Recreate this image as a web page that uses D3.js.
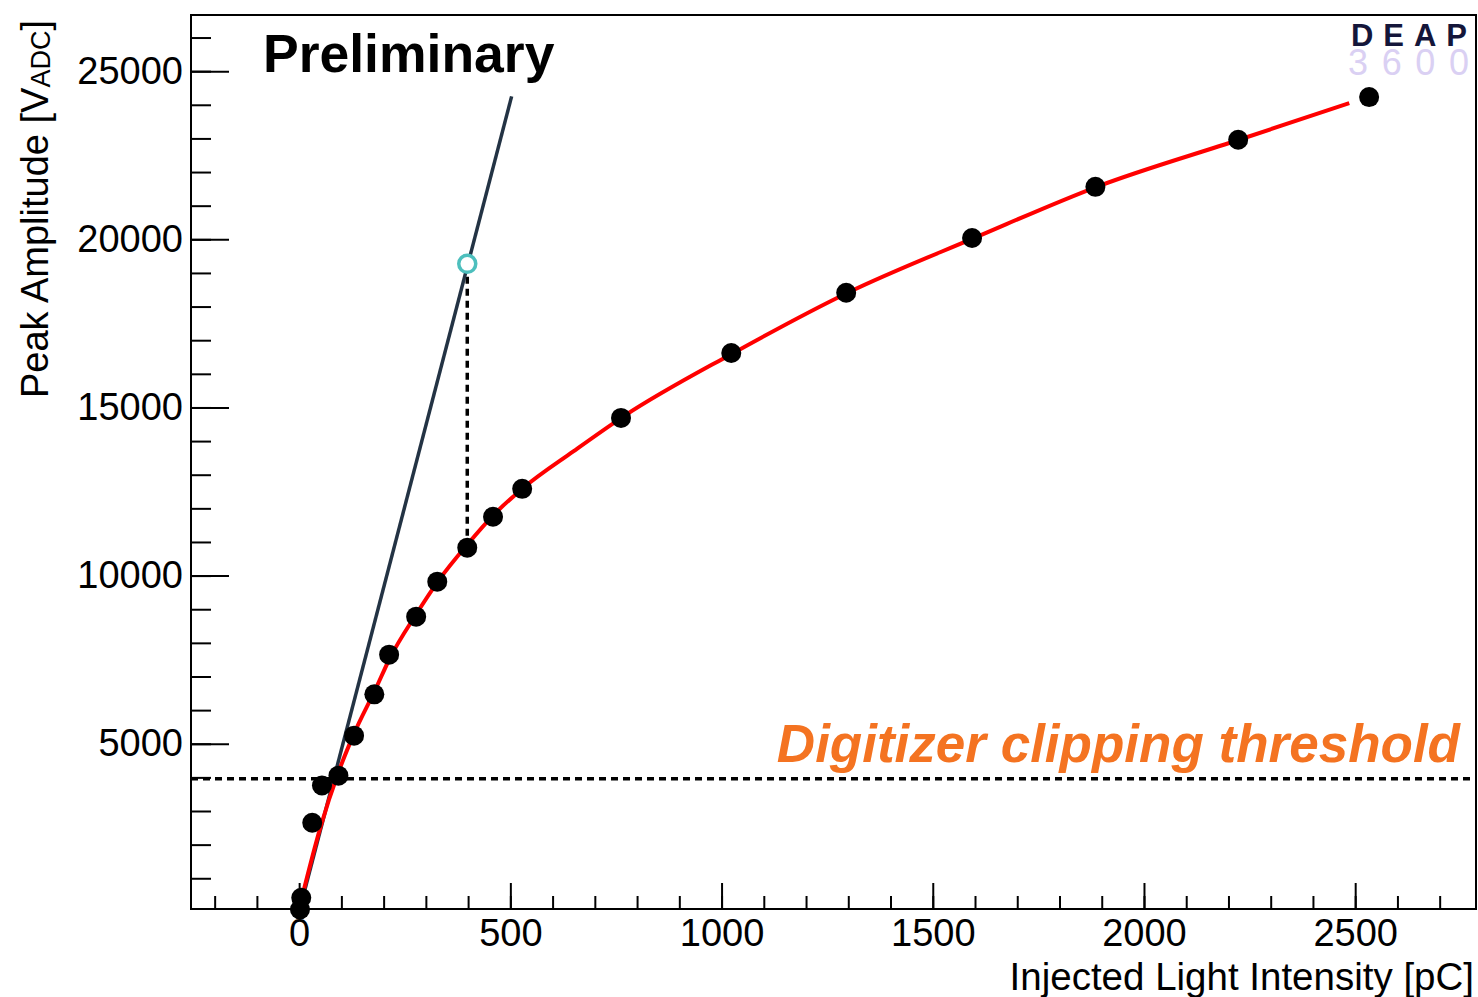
<!DOCTYPE html>
<meta charset="utf-8">
<title>Peak amplitude vs injected light</title>
<style>
  body { margin: 0; background: #fff; }
  text { font-family: "Liberation Sans", Arial, Helvetica, sans-serif; }
  .tick text { font-size: 38px; fill: #000; }
  .tick line { stroke: #000; stroke-width: 2px; }
</style>
<body>
<script src="https://d3js.org/d3.v7.min.js"></script>
<script>
  // measured points (pC, V_ADC)
  var injected = [2, 5, 31, 54, 93, 130, 178, 213, 277, 327, 398, 459, 528, 762, 1023, 1295, 1593, 1885, 2223, 2533];
  var amplitude = [70, 420, 2650, 3760, 4050, 5240, 6470, 7650, 8780, 9820, 10830, 11750, 12580, 14690, 16620, 18410, 20040, 21560, 22960, 24230];

  // red fit curve
  var fitX = [7, 50, 93, 130, 180, 215, 277, 327, 400, 460, 530, 650, 770, 1025, 1300, 1600, 1890, 2225, 2486];
  var fitY = [450, 2500, 4150, 5300, 6600, 7550, 8850, 9800, 10950, 11800, 12600, 13700, 14750, 16600, 18420, 20050, 21570, 22960, 24050];

  // linear extrapolation line (ends) and projected point
  var linX = [0, 503];
  var linY = [0, 24250];
  var projX = 398, projY = 19270;

  var clipLevel = 3960;

  var xMajor = [0, 500, 1000, 1500, 2000, 2500];
  var yMajor = [5000, 10000, 15000, 20000, 25000];

  var width = 1478, height = 997;
  var frameL = 191, frameR = 1476, frameT = 15, frameB = 909;

  var svg = d3.select("body").append("svg")
    .attr("width", width)
    .attr("height", height);

  var x = d3.scaleLinear().domain([-256, 2786]).range([frameL, frameR]);
  var y = d3.scaleLinear().domain([86, 26670]).range([frameB, frameT]);

  // minor ticks
  svg.append("g")
    .attr("transform", "translate(0," + frameB + ")")
    .call(d3.axisBottom(x).tickValues(d3.range(-200, 2701, 100)).tickSize(-13).tickFormat(""))
    .call(g => g.select(".domain").remove());
  svg.append("g")
    .attr("transform", "translate(" + frameL + ",0)")
    .call(d3.axisLeft(y).tickValues(d3.range(1000, 26001, 1000)).tickSize(-20).tickFormat(""))
    .call(g => g.select(".domain").remove());

  // major ticks + labels
  svg.append("g")
    .attr("transform", "translate(0," + frameB + ")")
    .call(d3.axisBottom(x).tickValues(xMajor).tickSize(-26).tickPadding(10).tickFormat(d3.format("d")))
    .call(g => g.select(".domain").remove())
    .call(g => g.selectAll(".tick text").attr("font-family", null));
  svg.append("g")
    .attr("transform", "translate(" + frameL + ",0)")
    .call(d3.axisLeft(y).tickValues(yMajor).tickSize(-38).tickPadding(8).tickFormat(d3.format("d")))
    .call(g => g.select(".domain").remove())
    .call(g => g.selectAll(".tick text").attr("font-family", null));

  // frame
  svg.append("rect")
    .attr("x", frameL).attr("y", frameT)
    .attr("width", frameR - frameL).attr("height", frameB - frameT)
    .attr("fill", "none").attr("stroke", "#000").attr("stroke-width", 2);

  // clipping threshold
  svg.append("line")
    .attr("x1", frameL).attr("x2", frameR)
    .attr("y1", y(clipLevel)).attr("y2", y(clipLevel))
    .attr("stroke", "#000").attr("stroke-width", 3.5)
    .attr("stroke-dasharray", "7,5");

  // vertical projection
  svg.append("line")
    .attr("x1", x(projX)).attr("x2", x(projX))
    .attr("y1", y(projY) + 13).attr("y2", y(amplitude[10]) - 10)
    .attr("stroke", "#000").attr("stroke-width", 3.5)
    .attr("stroke-dasharray", "7,5");

  // linear line
  svg.append("line")
    .attr("x1", x(linX[0])).attr("y1", y(linY[0]))
    .attr("x2", x(linX[1])).attr("y2", y(linY[1]))
    .attr("stroke", "#233344").attr("stroke-width", 3.5);

  // fit curve
  var line = d3.line()
    .x(function(d, i) { return x(fitX[i]); })
    .y(function(d, i) { return y(fitY[i]); })
    .curve(d3.curveMonotoneX);
  svg.append("path")
    .datum(fitX)
    .attr("d", line)
    .attr("fill", "none")
    .attr("stroke", "#ff0000")
    .attr("stroke-width", 4);

  // data points
  svg.append("g").selectAll("circle")
    .data(injected)
    .enter().append("circle")
    .attr("cx", function(d) { return x(d); })
    .attr("cy", function(d, i) { return y(amplitude[i]); })
    .attr("r", 10)
    .attr("fill", "#000");

  // projected point
  svg.append("circle")
    .attr("cx", x(projX)).attr("cy", y(projY))
    .attr("r", 8.5)
    .attr("fill", "#fff")
    .attr("stroke", "#4dbfbd")
    .attr("stroke-width", 3.5);

  // texts
  svg.append("text")
    .attr("x", 263).attr("y", 72)
    .attr("font-size", 53.5).attr("font-weight", "bold")
    .text("Preliminary");

  svg.append("text")
    .attr("x", 1460).attr("y", 762)
    .attr("text-anchor", "end")
    .attr("font-size", 53).attr("font-weight", "bold").attr("font-style", "italic")
    .attr("fill", "#f47321")
    .text("Digitizer clipping threshold");

  svg.append("text")
    .attr("x", 1474).attr("y", 990)
    .attr("text-anchor", "end")
    .attr("font-size", 38.5)
    .text("Injected Light Intensity [pC]");

  var yt = svg.append("text")
    .attr("transform", "translate(48,20) rotate(-90)")
    .attr("text-anchor", "end")
    .attr("font-size", 38);
  yt.append("tspan").text("Peak Amplitude [V");
  yt.append("tspan").attr("font-size", 27).attr("dy", 2).text("ADC");
  yt.append("tspan").attr("dy", -2).text("]");

  // logo
  svg.append("text")
    .attr("x", 1348).attr("y", 75)
    .attr("font-family", "DejaVu Sans")
    .attr("font-size", 36)
    .attr("fill", "#dad0f3")
    .attr("textLength", 121).attr("lengthAdjust", "spacing")
    .text("3600");
  svg.append("text")
    .attr("x", 1351).attr("y", 46)
    .attr("font-family", "DejaVu Sans")
    .attr("font-weight", "bold")
    .attr("font-size", 31)
    .attr("fill", "#14163a")
    .attr("textLength", 116).attr("lengthAdjust", "spacing")
    .text("DEAP");
</script>
</body>
</html>
